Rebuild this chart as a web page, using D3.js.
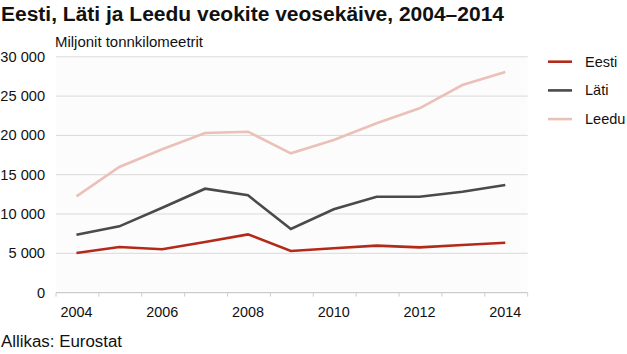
<!DOCTYPE html>
<html><head><meta charset="utf-8">
<script src="https://cdn.jsdelivr.net/npm/d3@7"></script>
<style>body{margin:0;background:#fff;} text{font-family:"Liberation Sans",Arial,sans-serif;}</style>
</head><body>
<svg id="c" width="627" height="354"></svg>
<script>
const years = [2004,2005,2006,2007,2008,2009,2010,2011,2012,2013,2014];
const eesti = [5040,5800,5510,6440,7410,5290,5640,5970,5760,6060,6350];
const lati  = [7370,8430,10800,13220,12380,8090,10600,12200,12200,12840,13690];
const leedu = [12250,15980,18230,20300,20470,17720,19410,21540,23450,26410,28060];
const yTicks = [0,5000,10000,15000,20000,25000,30000];
const xLabels = [2004,2006,2008,2010,2012,2014];
const seriesNames = ["Eesti","Läti","Leedu"];
const colors = ["#b42a1a","#4a4a4a","#ebc0b8"];

const svg = d3.select("#c");
const L = 56, R = 527.7, T = 56.8, B = 292.6;
const x = d3.scaleBand().domain(years).range([L,R]).padding(0);
const y = d3.scaleLinear().domain([0,30000]).range([B,T]);

svg.append("rect").attr("x",L).attr("y",T).attr("width",R-L).attr("height",B-T).attr("fill","#fcfcfc");

svg.append("text").attr("x",1).attr("y",21).attr("font-size","20px").attr("font-weight","bold").attr("fill","#111")
  .attr("textLength",503).attr("lengthAdjust","spacingAndGlyphs")
  .text("Eesti, Läti ja Leedu veokite veosekäive, 2004–2014");
svg.append("text").attr("x",55).attr("y",46.5).attr("font-size","14px").attr("fill","#111")
  .attr("textLength",148).attr("lengthAdjust","spacingAndGlyphs").text("Miljonit tonnkilomeetrit");

const fmt = v => d3.format(",")(v).replace(/,/g," ");
// grid
svg.append("g").selectAll("line").data(yTicks.filter(d=>d>0)).join("line")
  .attr("x1",L).attr("x2",R).attr("y1",d=>y(d)).attr("y2",d=>y(d))
  .attr("stroke","#d9d9d9").attr("stroke-width",1);
svg.append("g").selectAll("text").data(yTicks).join("text")
  .attr("x",45).attr("y",d=>y(d)+5).attr("text-anchor","end").attr("font-size","14.6px").attr("fill","#111").text(fmt);

// x axis
svg.append("line").attr("x1",L).attr("x2",R).attr("y1",B).attr("y2",B).attr("stroke","#ccc").attr("stroke-width",1.2);
const tickXs = years.map(d=>x(d)).concat([R]);
svg.append("g").selectAll("line").data(tickXs).join("line")
  .attr("x1",d=>d).attr("x2",d=>d).attr("y1",B).attr("y2",B+4).attr("stroke","#ccc");
svg.append("g").selectAll("text").data(xLabels).join("text")
  .attr("x",d=>x(d)+x.bandwidth()/2-1).attr("y",B+24).attr("text-anchor","middle").attr("font-size","14.4px").attr("fill","#111").text(d=>d);

const line = d3.line().x((d,i)=>x(years[i])+x.bandwidth()/2-1).y(d=>y(d));
const all = [eesti,lati,leedu];
[2,1,0].forEach(i=>{
  svg.append("path").attr("d",line(all[i])).attr("fill","none").attr("stroke",colors[i]).attr("stroke-width",2.6).attr("stroke-linejoin","miter");
});

// legend
seriesNames.forEach((n,i)=>{
  const ly = 61.7 + i*28.7;
  svg.append("line").attr("x1",548).attr("x2",572).attr("y1",ly).attr("y2",ly).attr("stroke",colors[i]).attr("stroke-width",2.6);
  svg.append("text").attr("x",585).attr("y",ly+5).attr("font-size","14.5px").attr("fill","#111").text(n);
});

svg.append("text").attr("x",1).attr("y",347).attr("font-size","16px").attr("fill","#111")
  .attr("textLength",121).attr("lengthAdjust","spacingAndGlyphs").text("Allikas: Eurostat");
</script>
</body></html>
